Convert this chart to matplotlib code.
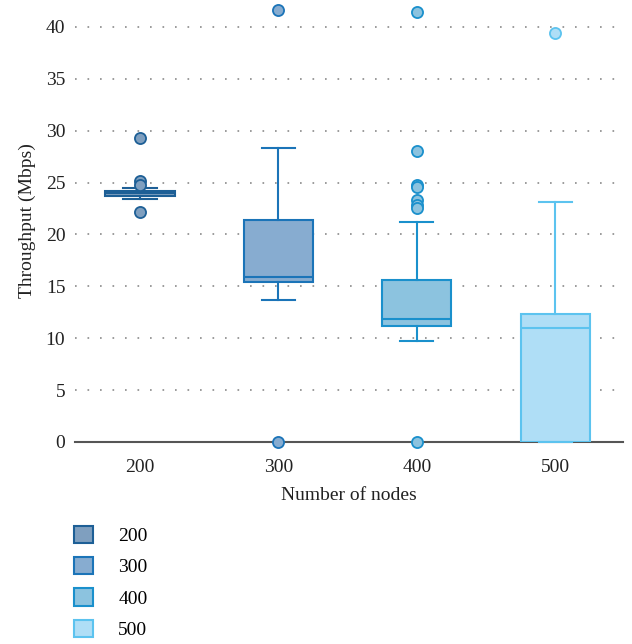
import matplotlib
matplotlib.use("Agg")
import matplotlib.pyplot as plt
from matplotlib.patches import Patch

categories = ["200", "300", "400", "500"]
q1 = [23.7, 15.4, 11.2, 0.0]
med = [24.0, 15.9, 11.9, 11.0]
q3 = [24.2, 21.4, 15.6, 12.3]
whislo = [23.4, 13.7, 9.7, 0.0]
whishi = [24.5, 28.3, 21.2, 23.1]
fliers = [
    [29.3, 25.2, 24.8, 22.2],
    [41.6, 0.0],
    [41.4, 28.0, 24.8, 24.6, 23.3, 22.8, 22.6, 0.0],
    [39.4],
]
fill_colors = ["#7f9fbf", "#87acd0", "#8cc3df", "#afdef6"]
edge_colors = ["#1d5f96", "#1b74b8", "#1a90cc", "#5cc3ef"]

plt.rcParams['font.family'] = ['Liberation Serif', 'DejaVu Serif']

fig = plt.figure(figsize=(6.32, 6.44), dpi=100)
ax = fig.add_axes([75/632, 202/644, 548/632, 442/644])

stats = []
for i, c in enumerate(categories):
    stats.append(dict(label=c, q1=q1[i], med=med[i], q3=q3[i],
                      whislo=whislo[i], whishi=whishi[i], fliers=fliers[i]))

for i, s in enumerate(stats):
    ec = edge_colors[i]
    fc = fill_colors[i]
    ax.bxp([s], positions=[i], widths=0.5, patch_artist=True,
           boxprops=dict(facecolor=fc, edgecolor=ec, linewidth=1.5),
           medianprops=dict(color=ec, linewidth=1.5),
           whiskerprops=dict(color=ec, linewidth=1.5),
           capprops=dict(color=ec, linewidth=1.5),
           flierprops=dict(marker='o', markerfacecolor=fc, markeredgecolor=ec,
                           markersize=8, markeredgewidth=1.3),
           capwidths=0.24, manage_ticks=False, zorder=3)

for art in ax.lines:
    art.set_clip_on(False)

ax.set_xlim(-0.47, 3.49)
ax.set_ylim(0, 42.6)
ax.set_yticks(range(0, 41, 5))
ax.set_xticks(range(len(categories)))
ax.set_xticklabels(categories)

for y in range(5, 41, 5):
    ax.axhline(y, color='#8a8a8a', linewidth=1.2, linestyle=(0, (1, 6.5)), zorder=1)

for sp in ['top', 'right', 'left']:
    ax.spines[sp].set_visible(False)
ax.spines['bottom'].set_color('#555555')
ax.spines['bottom'].set_linewidth(1.5)
ax.tick_params(axis='both', length=0, labelsize=14, colors='#222222')
ax.tick_params(axis='y', pad=7)
ax.tick_params(axis='x', pad=12)
ax.set_ylabel("Throughput (Mbps)", fontsize=14, color='#222222', labelpad=7)
ax.set_xlabel("Number of nodes", fontsize=14, color='#222222', labelpad=8)

handles = [Patch(facecolor=fill_colors[i], edgecolor=edge_colors[i], linewidth=1.5,
                 label=categories[i]) for i in range(len(categories))]
fig.legend(handles=handles, loc='upper left', bbox_to_anchor=(60/632, 1 - 512/644),
           frameon=False, fontsize=14, handlelength=1.0, handleheight=1.0,
           labelspacing=0.62, handletextpad=1.3, borderaxespad=0.3)

fig.savefig("out.png", dpi=100)
